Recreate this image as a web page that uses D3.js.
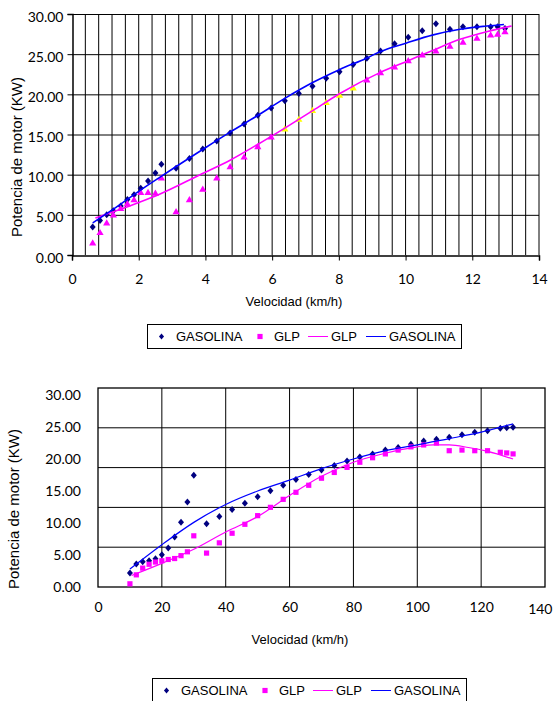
<!DOCTYPE html>
<html lang="es">
<head>
<meta charset="utf-8">
<title>Potencia de motor vs velocidad</title>
<script src="https://cdnjs.cloudflare.com/ajax/libs/d3/7.8.5/d3.min.js"></script>
<style>
  body { margin: 0; background: #fff; }
  svg { display: block; }
  .tick text { font-family: Lato, "Open Sans", sans-serif; font-size: 14px; fill: #000; }
  .ttl { font-family: "Liberation Sans", Arial, sans-serif; fill: #000; }
</style>
</head>
<body>
<svg id="chart" width="554" height="701"></svg>
<script>
// ---- grafico 1 (velocidad 0 - 14) ----
var vel1 = [0.62, 0.84, 1.04, 1.24, 1.46, 1.66, 1.86, 2.06, 2.28, 2.5, 2.68, 3.12, 3.52, 3.92, 4.34, 4.74,
  5.16, 5.57, 5.97, 6.38, 6.8, 7.21, 7.62, 8.02, 8.43, 8.84, 9.25, 9.67, 10.08, 10.5, 10.91, 11.33,
  11.72, 12.14, 12.55, 12.76, 12.98];
var gasolina1 = [3.5, 4.3, 5.0, 5.5, 6.1, 6.9, 7.5, 8.3, 9.2, 10.2, 11.3, 10.8, 12.0, 13.2, 14.2, 15.2,
  16.3, 17.4, 18.3, 19.2, 20.1, 21.0, 22.0, 22.8, 23.7, 24.5, 25.4, 26.3, 27.1, 27.9, 28.8, 28.1,
  28.4, 28.4, 28.4, 28.4, 28.2];
var glp1 = [1.5, 2.8, 4.0, 5.0, 5.8, 6.4, 6.9, 7.8, 7.8, 7.7, 9.6, 5.4, 6.9, 8.2, 9.6, 11.0,
  12.2, 13.5, 14.7, 15.7, 16.9, 18.0, 19.0, 19.9, 20.8, 21.8, 22.7, 23.4, 24.2, 24.9, 25.4, 26.0,
  26.5, 27.0, 27.4, 27.5, 27.8];
// lineas de tendencia
var tendGasX1 = [0.62, 1.24, 1.99, 2.64, 3.94, 4.74, 5.54, 6.38, 7.23, 8.03, 8.83, 9.23, 10.03, 10.83, 11.63, 12.43, 12.95];
var tendGas1 = [4.0, 5.7, 7.9, 9.7, 13.2, 15.3, 17.3, 19.5, 21.5, 23.1, 24.5, 25.3, 26.4, 27.4, 28.1, 28.5, 28.7];
var tendGlpX1 = [0.7, 1.39, 2.04, 2.64, 3.84, 4.74, 5.54, 6.38, 7.23, 8.03, 9.23, 10.03, 10.83, 11.63, 12.43, 13.18];
var tendGlp1 = [4.6, 5.6, 6.6, 7.6, 10.0, 11.8, 13.7, 15.8, 18.0, 20.1, 22.7, 24.1, 25.5, 26.85, 27.8, 28.5];
var xTicks1 = [0, 2, 4, 6, 8, 10, 12, 14];

// ---- grafico 2 (velocidad 0 - 140) ----
var vel2 = [10, 12, 14, 16, 18, 20, 22, 24, 26, 28, 30, 34, 38, 42, 46, 50, 54, 58, 62, 66, 70, 74,
  78, 82, 86, 90, 94, 98, 102, 106, 110, 114, 118, 122, 126, 128, 130];
var gasolina2 = [2.2, 3.6, 3.95, 4.1, 4.4, 5.05, 6.1, 7.8, 10.1, 13.3, 17.45, 9.9, 11.0, 12.1, 13.1, 14.1,
  15.05, 15.9, 16.8, 17.6, 18.3, 19.0, 19.7, 20.3, 20.8, 21.4, 21.8, 22.3, 22.8, 23.1, 23.4, 23.8,
  24.2, 24.4, 24.8, 24.9, 24.95];
var glp2 = [0.5, 1.9, 2.95, 3.55, 3.9, 4.1, 4.3, 4.45, 4.9, 5.5, 8.0, 5.3, 6.9, 8.4, 9.8, 11.15,
  12.45, 13.7, 14.8, 15.9, 17.0, 17.9, 18.7, 19.5, 20.2, 20.8, 21.4, 21.9, 22.2, 22.5, 21.3, 21.4,
  21.3, 21.3, 21.05, 20.95, 20.8];
var tendGasX2 = [10, 20, 30, 40, 50, 60, 70, 80, 90, 100, 110, 120, 130];
var tendGas2 = [2.8, 6.6, 10.1, 12.9, 15.0, 16.7, 18.5, 20.0, 21.3, 22.2, 23.2, 24.2, 25.5];
var tendGlpX2 = [10.5, 20, 30, 40, 50, 60, 70, 80, 90, 100, 105, 110, 116, 122, 130];
var tendGlp2 = [1.8, 3.7, 5.9, 8.6, 11.0, 14.3, 17.3, 19.5, 20.9, 21.9, 22.2, 22.2, 21.8, 21.2, 20.0];
var xTicks2 = [0, 20, 40, 60, 80, 100, 120, 140];

var yTicks = [0, 5, 10, 15, 20, 25, 30];

var NAVY = "#000080", MAG = "#ff00ff", BLUE = "#0000ff";
var diamond = "M0,-3.5L3,0L0,3.5L-3,0Z";
var triangle = "M0,-3.6L3.6,2.6L-3.6,2.6Z";
var square = "M-2.6,-2.6h5.2v5.2h-5.2Z";

var svg = d3.select("#chart");

function pts(xs, ys) { return xs.map(function (v, i) { return [v, ys[i]]; }); }

function markers(g, x, y, xs, ys, shape, color) {
  g.selectAll(null).data(pts(xs, ys)).enter().append("path")
    .attr("d", shape)
    .attr("transform", function (d) { return "translate(" + x(d[0]) + "," + y(d[1]) + ")"; })
    .attr("fill", typeof color === "function" ? function (d) { return color(d); } : color);
}

function trend(g, x, y, xs, ys, color, w) {
  var line = d3.line().x(function (d) { return x(d[0]); }).y(function (d) { return y(d[1]); })
    .curve(d3.curveMonotoneX);
  g.append("path").datum(pts(xs, ys)).attr("d", line)
    .attr("fill", "none").attr("stroke", color).attr("stroke-width", w);
}

function legend(left, top) {
  var g = svg.append("g").attr("transform", "translate(" + left + "," + top + ")");
  g.append("rect").attr("x", 0.5).attr("y", 0.5).attr("width", 314).attr("height", 24)
    .attr("fill", "#fff").attr("stroke", "#000");
  var cy = 12.5;
  g.append("path").attr("d", diamond).attr("transform", "translate(14.5," + cy + ") scale(0.85)").attr("fill", NAVY);
  g.append("path").attr("d", square).attr("transform", "translate(113," + cy + ")").attr("fill", MAG);
  g.append("line").attr("x1", 161).attr("x2", 181).attr("y1", cy).attr("y2", cy).attr("stroke", MAG);
  g.append("line").attr("x1", 219).attr("x2", 239).attr("y1", cy).attr("y2", cy).attr("stroke", BLUE);
  var labels = [["GASOLINA", 29], ["GLP", 127], ["GLP", 184], ["GASOLINA", 242]];
  labels.forEach(function (l) {
    g.append("text").attr("class", "ttl").attr("x", l[1]).attr("y", cy).attr("dy", "0.36em")
      .attr("font-size", 13).text(l[0]);
  });
}

function ytitle(cx, cy) {
  svg.append("text").attr("class", "ttl").attr("font-size", 15)
    .attr("transform", "translate(" + cx + "," + cy + ") rotate(-90)")
    .attr("text-anchor", "middle").attr("dy", "0.35em").text("Potencia de motor (KW)");
}

function xtitle(cx, cy) {
  svg.append("text").attr("class", "ttl").attr("font-size", 13).attr("x", cx).attr("y", cy)
    .attr("text-anchor", "middle").attr("dy", "0.35em").text("Velocidad (km/h)");
}

// ================= grafico 1 =================
(function () {
  var L = 72, T = 14, R = 539, B = 255;
  var x = d3.scaleLinear().domain([0, 14]).range([L, R]);
  var y = d3.scaleLinear().domain([0, 30]).range([B, T]);
  var g = svg.append("g");

  // rejilla vertical menor cada 0.4
  g.selectAll(null).data(d3.range(1, 36)).enter().append("line")
    .attr("x1", function (i) { return x(i * 0.4); }).attr("x2", function (i) { return x(i * 0.4); })
    .attr("y1", T).attr("y2", B).attr("stroke", "#000").attr("stroke-width", 1);
  g.selectAll(null).data(yTicks.slice(1)).enter().append("line")
    .attr("x1", L).attr("x2", R)
    .attr("y1", function (d) { return y(d) + 0.5; }).attr("y2", function (d) { return y(d) + 0.5; })
    .attr("stroke", "#000");

  var xa = g.append("g").attr("transform", "translate(0," + (B + 0.5) + ")")
    .call(d3.axisBottom(x).tickValues(xTicks1).tickSize(5).tickPadding(14).tickFormat(d3.format("d")));
  var ya = g.append("g").attr("transform", "translate(" + (L + 0.5) + ",0)")
    .call(d3.axisLeft(y).tickValues(yTicks).tickSize(5).tickPadding(4).tickFormat(d3.format(".2f")));
  ya.selectAll(".tick text").attr("dy", "0.5em");
  [xa, ya].forEach(function (a) {
    a.selectAll(".domain").attr("stroke", "#000").attr("stroke-width", 1.5);
    a.selectAll(".tick line").attr("stroke", "#000");
  });

  markers(g, x, y, vel1, gasolina1, diamond, NAVY);
  markers(g, x, y, vel1, glp1, triangle, function (d) {
    return d[0] > 6.3 && d[0] < 8.5 ? "#ffff00" : MAG;
  });
  trend(g, x, y, tendGlpX1, tendGlp1, MAG, 1.6);
  trend(g, x, y, tendGasX1, tendGas1, BLUE, 1.6);

  ytitle(17, 157);
  xtitle(294, 301);
  legend(147, 324);
})();

// ================= grafico 2 =================
(function () {
  var L = 98, T = 388, R = 545, B = 587;
  var x = d3.scaleLinear().domain([0, 140]).range([L, R]);
  // las etiquetas del eje Y no coinciden con la rejilla del original
  var y = d3.scaleLinear().domain([0, 31.1]).range([B, T]);
  var grid = d3.scaleLinear().domain([0, 5]).range([B, T]);
  var g = svg.append("g");

  g.selectAll(null).data(xTicks2.slice(1, -1)).enter().append("line")
    .attr("x1", function (d) { return x(d); }).attr("x2", function (d) { return x(d); })
    .attr("y1", T).attr("y2", B).attr("stroke", "#000");
  g.selectAll(null).data(d3.range(1, 5)).enter().append("line")
    .attr("x1", L).attr("x2", R)
    .attr("y1", function (i) { return grid(i); }).attr("y2", function (i) { return grid(i); })
    .attr("stroke", "#000");
  g.append("rect").attr("x", L).attr("y", T).attr("width", R - L).attr("height", B - T)
    .attr("fill", "none").attr("stroke", "#000").attr("stroke-width", 1.3);

  var xa = g.append("g").attr("transform", "translate(0," + B + ")")
    .call(d3.axisBottom(x).tickValues(xTicks2).tickSize(0).tickPadding(15).tickFormat(d3.format("d")));
  var ya = g.append("g").attr("transform", "translate(" + L + ",0)")
    .call(d3.axisLeft(y).tickValues(yTicks).tickSize(0).tickPadding(17).tickFormat(d3.format(".2f")));
  xa.select(".domain").remove();
  ya.select(".domain").remove();
  // en el original la ultima etiqueta queda algo mas baja y pegada al borde
  xa.selectAll(".tick text").filter(function (d) { return d === 140; })
    .attr("text-anchor", "end").attr("x", 7).attr("dy", "0.86em");

  markers(g, x, y, vel2, gasolina2, diamond, NAVY);
  markers(g, x, y, vel2, glp2, square, MAG);
  trend(g, x, y, tendGlpX2, tendGlp2, MAG, 1.2);
  trend(g, x, y, tendGasX2, tendGas2, BLUE, 1.2);

  ytitle(14, 509);
  xtitle(300, 639);
  legend(152, 678);
})();
</script>
</body>
</html>
